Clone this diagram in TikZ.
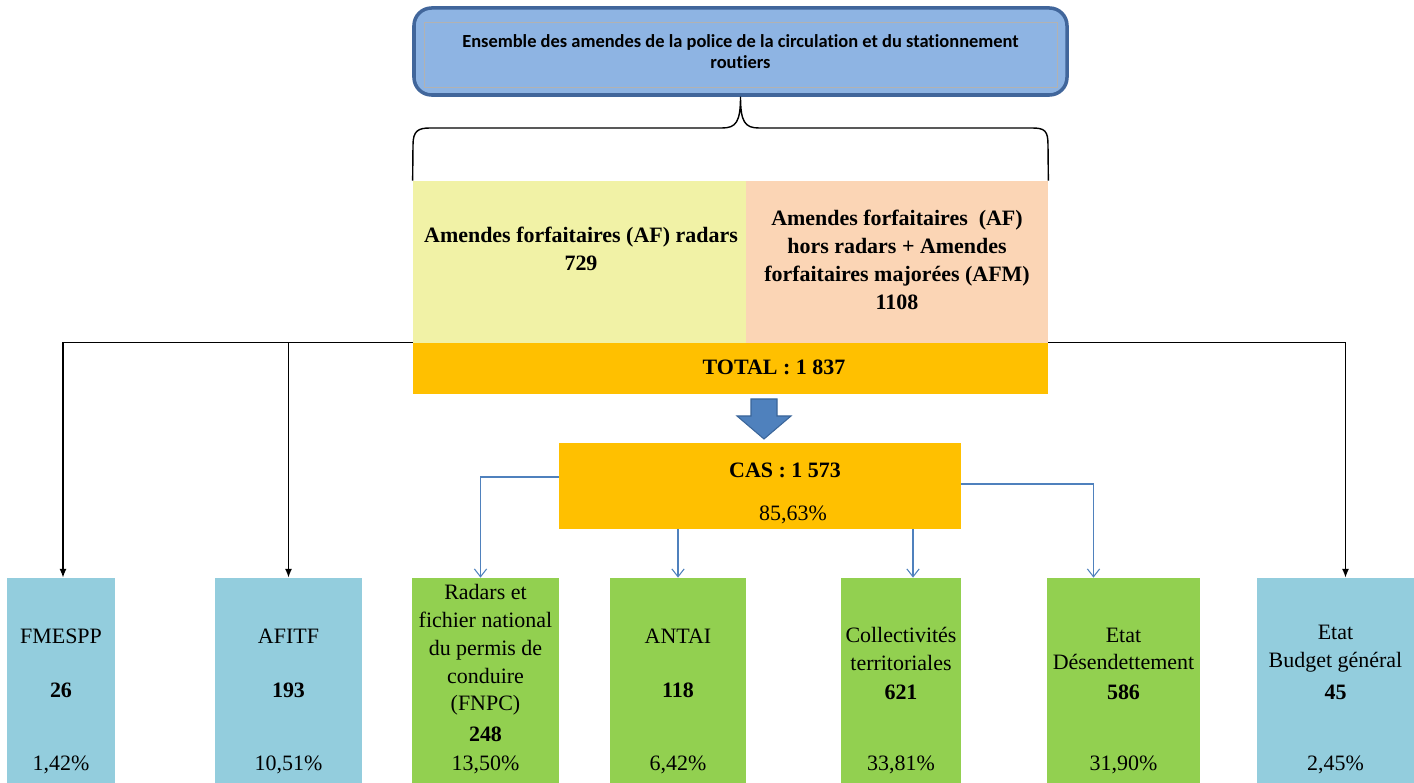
\documentclass[tikz,border=0pt]{standalone}
\usepackage{fontspec}
\setmainfont{Liberation Serif}
\newfontfamily\headfont[Ligatures={NoCommon,NoRare,NoContextual}]{Carlito}
\usepackage{tikz}
\usetikzlibrary{fit,arrows.meta}

\definecolor{headfill}{HTML}{8EB4E3}
\definecolor{headedge}{HTML}{41669B}
\definecolor{afyellow}{HTML}{F1F2A6}
\definecolor{afpeach}{HTML}{FBD5B5}
\definecolor{gold}{HTML}{FFC000}
\definecolor{arrowblue}{HTML}{4F81BD}
\definecolor{arrowedge}{HTML}{3A6599}
\definecolor{cellblue}{HTML}{93CDDD}
\definecolor{cellgreen}{HTML}{92D050}

\begin{document}
\begin{tikzpicture}[
	x=0.02cm, y=-0.02cm,
	cellbox/.style = {rectangle, inner sep=0pt, draw=none},
	txt/.style = {font=\fontsize{12.5}{15.8}\selectfont, align=center, inner sep=0pt},
	blk/.style = {draw=black, line width=0.8pt, -{Latex[length=5pt,width=4pt]}},
	casline/.style = {draw=arrowblue, line width=0.6pt, -{Straight Barb[length=4.5pt,width=7pt]}},
	]
	\useasboundingbox (0,0) rectangle (1414,783);

	% header
	\node[cellbox, fit={(414,8) (1067,95)}, rounded corners=10pt, fill=headfill,
		draw=headedge, line width=2pt] (head) {};
	\draw[gray!60, line width=0.5pt] (424,22) rectangle (1057,87);
	\node[font=\headfont\bfseries\fontsize{10.5}{12}\selectfont, align=center, inner sep=0pt]
		(head-t) at (head.center) {Ensemble des amendes de la police de la circulation et du stationnement\\routiers};

	% amendes + total
	\node[cellbox, fill=afyellow, fit={(413,181) (746,343)}] (afr) {};
	\node[cellbox, fill=afpeach, fit={(746,181) (1048,343)}] (afh) {};
	\node[cellbox, fill=gold, fit={(413,343) (1048,394)}] (total) {};
	\node[txt, font=\fontsize{12.5}{15.8}\selectfont\bfseries] (afr-t) at (581,249)
		{Amendes forfaitaires (AF) radars\\729};
	\node[txt, font=\fontsize{12.5}{15.8}\selectfont\bfseries] (afh-t) at (897,260)
		{Amendes forfaitaires \ (AF)\\hors radars + Amendes\\forfaitaires majorées (AFM)\\1108};
	\node[txt, font=\fontsize{12.5}{15.8}\selectfont\bfseries] (total-t) at (774,367) {TOTAL : 1 837};

	% brace
	\draw[line width=0.8pt] (afr.north west) -- (413,145) .. controls (413,131) and (418,128) .. (430,128)
		-- (722,128) .. controls (736,128) and (740.5,122) .. (head.south)
		.. controls (740.5,122) and (745,128) .. (759,128) -- (1032,128)
		.. controls (1045,128) and (1048,131) .. (1048,145) -- (afh.north east);

	% block arrow
	\draw[fill=arrowblue, draw=arrowedge, line width=0.6pt] (751,399) -- (777,399) -- (777,416)
		-- (791,416) -- (764,439) -- (737,416) -- (751,416) -- cycle;

	% CAS
	\node[cellbox, fill=gold, fit={(559,443) (961,529)}] (cas) {};
	\node[txt, font=\fontsize{12.5}{15.8}\selectfont\bfseries] (cas-t) at (785,470) {CAS : 1 573};
	\node[txt] (cas-p) at (793,515) {85,63\%};

	% bottom cells
	\foreach \nm/\xa/\xb/\col/\ttl/\ty/\val/\vy/\pct [evaluate=\xa as \xc using (\xa+\xb)/2] in {
		fmespp/7/115/cellblue/FMESPP/636/26/690/{1,42\%},
		afitf/215/362/cellblue/AFITF/636/193/690/{10,51\%},
		radars/412/559/cellgreen/{Radars et\\fichier national\\du permis de\\conduire\\(FNPC)}/650/248/734/{13,50\%},
		antai/610/746/cellgreen/ANTAI/636/118/690/{6,42\%},
		coll/841/961/cellgreen/{Collectivités\\territoriales}/649/621/692/{33,81\%},
		desend/1047/1200/cellgreen/{Etat\\Désendettement}/649/586/692/{31,90\%},
		budget/1257/1414/cellblue/{Etat\\Budget général}/649/45/692/{2,45\%}}
	{
		\node[cellbox, fill=\col, fit={(\xa,578) (\xb,783)}] (\nm) {};
		\node[txt] (\nm-t) at (\xc,\ty) {\ttl};
		\node[txt, font=\fontsize{12.5}{15.8}\selectfont\bfseries] (\nm-v) at (\xc,\vy) {\val};
		\node[txt] (\nm-p) at (\xc,765) {\pct};
	}

	% black connectors
	\draw[blk] (total.north west) -| ([xshift=0.04cm]fmespp.north);
	\draw[blk] (afitf.north |- total.north west) -- (afitf.north);
	\draw[blk] (total.north east) -| ([xshift=0.2cm]budget.north);

	% blue connectors
	\draw[casline] ([yshift=0.18cm]cas.west) -| ([xshift=-0.1cm]radars.north);
	\draw[casline] (cas.south -| antai.north) -- (antai.north);
	\draw[casline] ([xshift=0.24cm]cas.south -| coll.north) -- ([xshift=0.24cm]coll.north);
	\draw[casline] ([yshift=0.04cm]cas.east) -| ([xshift=-0.6cm]desend.north);
\end{tikzpicture}
\end{document}
